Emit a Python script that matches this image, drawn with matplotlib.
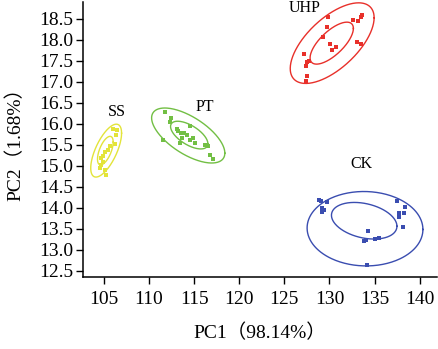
import numpy as np
import matplotlib
matplotlib.use("Agg")
import matplotlib.pyplot as plt

plt.rcParams['font.family'] = ['Liberation Serif', 'Noto Sans CJK SC', 'DejaVu Sans']

# scores (PC1, PC2)
uhp_x = [129.84, 133.6, 133.54, 132.6, 133.16, 129.77, 129.29, 130.1, 130.77, 130.33,
         133.1, 133.46, 127.15, 127.7, 127.56, 127.37, 127.51, 127.45]
uhp_y = [18.54, 18.6, 18.54, 18.46, 18.44, 18.3, 18.06, 17.9, 17.83, 17.75,
         17.95, 17.9, 17.67, 17.5, 17.47, 17.38, 17.14, 17.02]

ck_x = [128.84, 129.11, 129.77, 129.22, 129.36, 129.17, 137.48, 138.37, 137.67, 138.26,
        137.70, 138.14, 134.27, 133.83, 134.09, 135.01, 135.49, 134.20]
ck_y = [14.19, 14.17, 14.14, 13.99, 13.95, 13.90, 14.17, 14.02, 13.87, 13.87,
        13.79, 13.55, 13.44, 13.21, 13.24, 13.25, 13.29, 12.64]

pt_x = [111.76, 112.42, 112.31, 113.05, 113.23, 113.49, 113.89, 114.52, 114.16, 113.60,
        114.52, 114.89, 113.42, 115.08, 116.18, 116.55, 116.74, 117.10, 111.57]
pt_y = [16.29, 16.14, 16.03, 15.87, 15.82, 15.78, 15.78, 15.94, 15.74, 15.66,
        15.62, 15.66, 15.54, 15.54, 15.50, 15.46, 15.26, 15.16, 15.62]

ss_x = [106.47, 106.36, 106.18, 105.63, 105.44, 105.08, 104.89, 104.63, 104.89, 104.70,
        104.52, 105.08, 105.22, 105.99]
ss_y = [15.84, 15.74, 15.52, 15.46, 15.38, 15.33, 15.22, 15.18, 15.10, 15.02,
        14.95, 14.90, 14.79, 15.88]

# ellipses: centre, half x-extent, half y-extent, correlation (outer, inner)
uhp_ell = [(130.3, 17.92, 4.65, 0.96, 0.63), (130.25, 17.92, 2.40, 0.50, 0.70)]
ck_ell = [(133.94, 13.50, 6.42, 0.886, -0.02), (133.85, 13.69, 3.63, 0.436, -0.30)]
pt_ell = [(114.34, 15.72, 4.06, 0.655, -0.64), (114.45, 15.73, 2.07, 0.33, -0.62)]
ss_ell = [(105.24, 15.36, 1.71, 0.63, 0.66), (105.15, 15.36, 0.87, 0.34, 0.60)]

groups = ["UHP", "CK", "PT", "SS"]
colors = ["#e8302a", "#3a4db0", "#72bf44", "#e3e43a"]
label_pos = [(127.26, 18.75), (133.54, 15.05), (116.2, 16.41), (106.4, 16.29)]

fig = plt.figure(figsize=(4.39, 3.49), dpi=100)
ax = fig.add_axes([0.189, 0.2063, 0.806, 0.788])

t = np.linspace(0, 2 * np.pi, 300)
data = [(uhp_x, uhp_y, uhp_ell), (ck_x, ck_y, ck_ell), (pt_x, pt_y, pt_ell), (ss_x, ss_y, ss_ell)]
for (gx, gy, ells), name, c, lp in zip(data, groups, colors, label_pos):
    ax.plot(gx, gy, 's', color=c, ms=2.8, mew=0)
    for cx, cy, a, b, rho in ells:
        d = np.arccos(rho)
        ax.plot(cx + a * np.cos(t), cy + b * np.cos(t - d), color=c, lw=1.0)
    ax.text(lp[0], lp[1], name, fontsize=11.5, ha='center', va='center')

ax.set_xlim(102.67, 141.9)
ax.set_ylim(12.35, 18.9)
ax.set_xticks(np.arange(105, 141, 5))
ax.set_yticks(np.arange(12.5, 18.6, 0.5))
ax.set_yticklabels([f"{v:.1f}" for v in np.arange(12.5, 18.6, 0.5)])
ax.tick_params(labelsize=14, direction='out', length=5, width=1)
ax.tick_params(axis='x', pad=5)
ax.tick_params(axis='y', pad=2)
for s in ['top', 'right']:
    ax.spines[s].set_visible(False)
for s in ['left', 'bottom']:
    ax.spines[s].set_linewidth(1.1)

ax.set_xlabel("PC1（98.14%）", fontsize=14)
ax.set_ylabel("PC2（1.68%）", fontsize=14)
ax.xaxis.set_label_coords(0.50, -0.17)
ax.yaxis.set_label_coords(-0.165, 0.50)

fig.savefig("out.png", dpi=100)
